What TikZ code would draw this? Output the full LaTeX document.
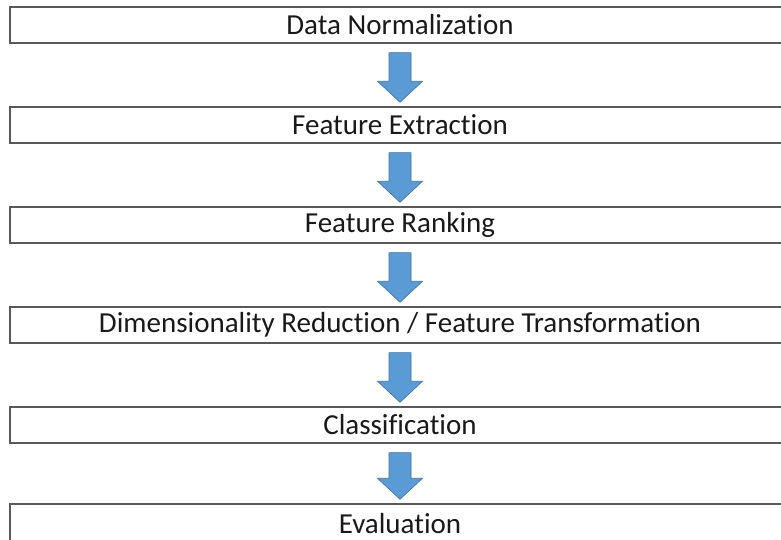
\documentclass[tikz,border=0pt]{standalone}
\usepackage{fontspec}
\setmainfont[Ligatures=NoCommon]{Carlito}
\usepackage{tikz}
\usetikzlibrary{calc}
\definecolor{bordo}{HTML}{595959}
\definecolor{blu}{HTML}{5B9BD5}
\definecolor{blus}{HTML}{41719C}
\tikzset{
  fase/.style={draw=bordo, line width=1.4pt, minimum width=780pt, minimum height=36pt,
    inner sep=0pt, font=\fontsize{29}{32}\selectfont, text=black!90},
  freccia/.style={fill=blu, draw=blus, line width=0.6pt, line join=miter}
}

\begin{document}
\begin{tikzpicture}[x=1pt, y=1pt]
    \useasboundingbox (0,0) rectangle (781,540);
    \node[fase] (norm) at (400,515) {Data Normalization};
    \node[fase] (estr) at (400,415) {Feature Extraction};
    \node[fase] (rank) at (400,315) {Feature Ranking};
    \node[fase] (ridu) at (400,215) {Dimensionality Reduction / Feature Transformation};
    \node[fase] (clas) at (400,115) {Classification};
    % l'ultima esce dal bordo in basso
    \node[fase, minimum height=40pt] (valu) at (400,16) {Evaluation};
    % frecce tra le fasi
    \foreach \a/\b in {norm/estr, estr/rank, rank/ridu, ridu/clas, clas/valu} {
        \coordinate (t) at ($(\a.south)+(0,-9)$);
        \coordinate (h) at ($(\b.north)+(0,4)$);
        \filldraw[freccia] ($(t)+(-11,0)$) -- ($(t)+(11,0)$) -- ($(h)+(11,21)$)
            -- ($(h)+(22.5,21)$) -- (h) -- ($(h)+(-22.5,21)$) -- ($(h)+(-11,21)$) -- cycle;
    }
\end{tikzpicture}
\end{document}
